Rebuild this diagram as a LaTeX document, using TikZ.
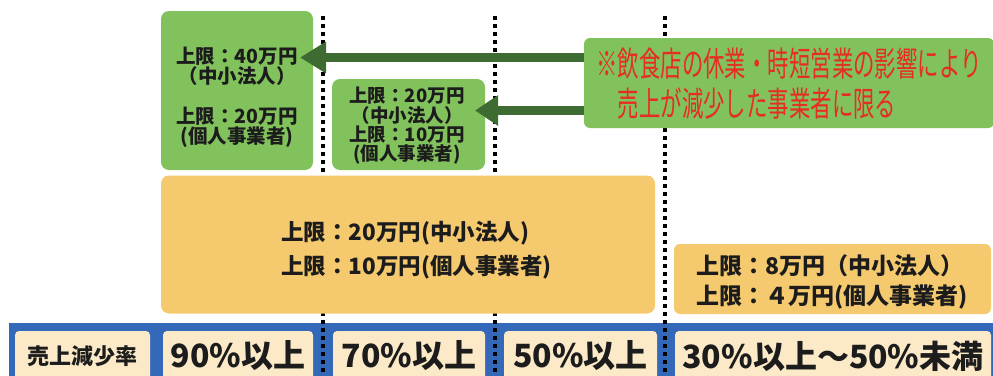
\documentclass[tikz,border=0pt]{standalone}
\usepackage{fontspec}
\usepackage{graphicx}
\setmainfont{Noto Sans CJK JP}
\usetikzlibrary{arrows.meta}
\definecolor{gfill}{RGB}{130,194,92}
\definecolor{garrow}{RGB}{62,107,50}
\definecolor{ofill}{RGB}{245,201,110}
\definecolor{cfill}{RGB}{251,233,200}
\definecolor{bbar}{RGB}{52,104,184}
\definecolor{rtext}{RGB}{230,45,35}
\definecolor{ink}{RGB}{28,28,28}
\newcommand\fsz[2]{\fontsize{#1}{#2}\selectfont}
\begin{document}
\begin{tikzpicture}[x=1pt,y=-1pt,
  box/.style={rounded corners=8pt, inner sep=0pt, draw=none},
  gbox/.style={box, fill=gfill},
  obox/.style={box, fill=ofill},
  cell/.style={rounded corners=4pt, fill=cfill, inner sep=0pt, minimum height=50pt, text=ink, font=\bfseries\fsz{32}{34}},
  divider/.style={line width=4pt, dash pattern=on 4pt off 4pt, black},
  bigarrow/.style={draw=garrow, line width=9pt, -{Triangle[length=26pt,width=30pt]}},
  lbl/.style={inner sep=0pt, text=ink, align=center}
]
\useasboundingbox (0,0) rectangle (993,375);
% blue bar
\node[fill=bbar, inner sep=0pt, minimum width=991pt, minimum height=60pt, anchor=north west] (bar) at (9,323) {};
% dividers
\coordinate (d1t) at (323,16); \coordinate (d1b) at (323,380);
\coordinate (d2t) at (495,16); \coordinate (d2b) at (495,380);
\coordinate (d3t) at (665,16); \coordinate (d3b) at (665,380);
\draw[divider] (d1t) -- (d1b);
\draw[divider] (d2t) -- (d2b);
\draw[divider] (d3t) -- (d3b);
% boxes
\node[gbox, minimum width=152pt, minimum height=159pt] (g1) at (237,90.5) {};
\node[gbox, minimum width=153pt, minimum height=91pt] (g2) at (408.5,124.5) {};
\node[gbox, rounded corners=6pt, minimum width=410pt, minimum height=90pt] (rbox) at (789,83) {};
\node[obox, minimum width=494pt, minimum height=138pt] (o1) at (408,244.5) {};
\node[obox, rounded corners=6pt, minimum width=317pt, minimum height=70pt] (o2) at (832.5,279) {};
% texts
\node[lbl, font=\bfseries\fsz{19.5}{20}] (t1) at (237,97) {上限：40万円\\（中小法人）\\[20pt]上限：20万円\\(個人事業者)};
\node[lbl, font=\bfseries\fsz{18.5}{19.3}] (t2) at (407,126) {上限：20万円\\（中小法人）\\上限：10万円\\(個人事業者)};
\node[lbl, font=\bfseries\fsz{22.5}{34}, align=left, anchor=west] (t3) at (281,250) {上限：20万円(中小法人)\\上限：10万円(個人事業者)};
\node[lbl, font=\bfseries\fsz{23}{30}, align=left, anchor=west] (t4) at (696,282) {上限：8万円（中小法人）\\上限：４万円(個人事業者)};
\node[inner sep=0pt, text=rtext, font=\fsz{34}{37}] (rt) at (789,88) {\scalebox{0.63}[1]{\begin{tabular}{@{}l@{}}※飲食店の休業・時短営業の影響により\\　売上が減少した事業者に限る\end{tabular}}};
% cells
\node[cell, minimum width=135pt, font=\bfseries\fsz{22}{24}] (c0) at (82.5,356) {売上減少率};
\node[cell, minimum width=150pt] (c1) at (238,356) {90\%以上};
\node[cell, minimum width=152pt] (c2) at (409,356) {70\%以上};
\node[cell, minimum width=153pt] (c3) at (580.5,356) {50\%以上};
\node[cell, minimum width=316pt] (c4) at (833,356) {30\%以上～50\%未満};
% arrows
\coordinate (tip1) at (300,57.5);
\coordinate (tip2) at (475,110.5);
\draw[bigarrow] (rbox.west |- tip1) -- (tip1);
\draw[bigarrow, -{Triangle[length=23pt,width=29pt]}] (rbox.west |- tip2) -- (tip2);
\end{tikzpicture}
\end{document}
